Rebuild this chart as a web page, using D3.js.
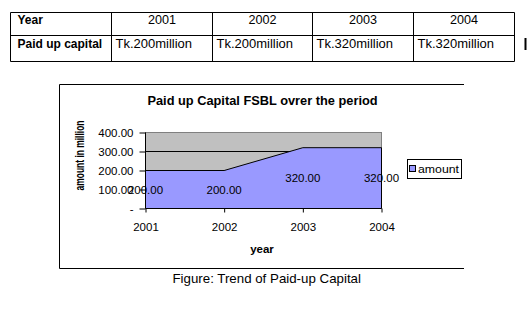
<!DOCTYPE html>
<html><head><meta charset="utf-8">
<script src="https://cdn.jsdelivr.net/npm/d3@7"></script>
<style>
html,body{margin:0;padding:0;background:#fff;}
svg{display:block;font-family:"Liberation Sans",Arial,sans-serif;}
</style></head>
<body>
<svg id="c" width="531" height="329"></svg>
<script>
// Data
const years = ["2001", "2002", "2003", "2004"];
const amounts = [200, 200, 320, 320];
const tableRowLabels = ["Year", "Paid up capital"];
const tableCapital = ["Tk.200million", "Tk.200million", "Tk.320million", "Tk.320million"];
const yTicks = [0, 100, 200, 300, 400];
const chartTitle = "Paid up Capital FSBL ovrer the period";
const yTitle = "amount in million";
const xTitle = "year";
const seriesName = "amount";
const caption = "Figure: Trend of Paid-up Capital";

const svg = d3.select("#c");
const FF = "Liberation Sans, Arial, sans-serif";

// ---- Table ----
const colEdges = [10.5, 111.5, 212.5, 312.5, 413.5, 514.5];
const rowEdges = [12.5, 35.5, 61.5];
const tbl = svg.append("g");
colEdges.forEach(x => tbl.append("line").attr("x1", x).attr("x2", x).attr("y1", rowEdges[0]).attr("y2", rowEdges[2]).attr("stroke", "#000"));
rowEdges.forEach(y => tbl.append("line").attr("x1", colEdges[0]).attr("x2", colEdges[5]).attr("y1", y).attr("y2", y).attr("stroke", "#000"));
tbl.append("text").attr("x", 17.5).attr("y", 24).attr("font-size", 12).attr("font-weight", "bold").text(tableRowLabels[0]);
tbl.append("text").attr("x", 17.5).attr("y", 47.5).attr("font-size", 12).attr("font-weight", "bold").text(tableRowLabels[1]);
years.forEach((y, i) => {
  tbl.append("text").attr("x", (colEdges[i + 1] + colEdges[i + 2]) / 2).attr("y", 24)
    .attr("text-anchor", "middle").attr("font-size", 12.6).text(y);
  tbl.append("text").attr("x", colEdges[i + 1] + 4).attr("y", 47.5)
    .attr("font-size", 13).text(tableCapital[i]);
});
// text cursor mark
tbl.append("rect").attr("x", 524.5).attr("y", 38).attr("width", 2).attr("height", 12).attr("fill", "#000");

// ---- Chart frame ----
svg.append("path").attr("d", "M464,84.5 H59.5 V268.5 H464").attr("fill", "none").attr("stroke", "#000").attr("stroke-width", 1);

// ---- Plot ----
const x = d3.scalePoint().domain(years).range([145.5, 381.5]);
const y = d3.scaleLinear().domain([0, 400]).range([208.5, 132.5]);

const plot = svg.append("g");
plot.append("rect").attr("x", x.range()[0]).attr("y", y(400)).attr("width", x.range()[1] - x.range()[0]).attr("height", y(0) - y(400))
  .attr("fill", "#C0C0C0").attr("stroke", "#808080");
// gridlines
plot.selectAll(".grid").data(yTicks.filter(d => d > 0 && d < 400)).join("line")
  .attr("x1", x.range()[0]).attr("x2", x.range()[1]).attr("y1", d => y(d)).attr("y2", d => y(d)).attr("stroke", "#000");

const data = years.map((yr, i) => ({ yr, v: amounts[i] }));
const area = d3.area().x(d => x(d.yr)).y0(y(0)).y1(d => y(d.v));
plot.append("path").datum(data).attr("d", area).attr("fill", "#9999FF");
const line = d3.line().x(d => x(d.yr)).y(d => y(d.v));
plot.append("path").datum(data).attr("d", line).attr("fill", "none").attr("stroke", "#000");
plot.append("line").attr("x1", x("2004")).attr("x2", x("2004")).attr("y1", y(amounts[3])).attr("y2", y(0)).attr("stroke", "#000");

// axes
const yAxis = d3.axisLeft(y).tickValues(yTicks).tickSize(6).tickPadding(6)
  .tickFormat(d => d === 0 ? "-" : d3.format(".2f")(d));
const gy = svg.append("g").attr("transform", `translate(${x.range()[0]},0)`).call(yAxis);
gy.select(".domain").remove();
gy.append("line").attr("x1", 0).attr("x2", 0).attr("y1", y(400)).attr("y2", y(0)).attr("stroke", "#000");
gy.selectAll("text").attr("font-size", 11.5).attr("font-family", FF).attr("fill", "#000").attr("dy", "0.35em");
gy.selectAll("line").attr("stroke", "#000");

const xAxis = d3.axisBottom(x).tickSize(4).tickPadding(10.5);
const gx = svg.append("g").attr("transform", `translate(0,${y(0)})`).call(xAxis);
gx.select(".domain").attr("d", `M${x.range()[0]},0H${x.range()[1]}`).attr("stroke", "#000");
gx.selectAll("text").attr("font-size", 11.5).attr("font-family", FF).attr("fill", "#000");
gx.selectAll("line").attr("stroke", "#000");

// data labels (centered at half value)
svg.append("g").selectAll("text").data(data).join("text")
  .attr("x", d => x(d.yr)).attr("y", d => y(d.v / 2)).attr("dy", "0.35em")
  .attr("text-anchor", "middle").attr("font-size", 11.5).text(d => d3.format(".2f")(d.v));

// titles
svg.append("text").attr("x", 262.5).attr("y", 105).attr("text-anchor", "middle")
  .attr("font-size", 12.8).attr("font-weight", "bold").text(chartTitle);
svg.append("text").attr("transform", "translate(84,155.5) rotate(-90)").attr("text-anchor", "middle")
  .attr("font-size", 12).attr("font-weight", "bold")
  .attr("textLength", 70).attr("lengthAdjust", "spacingAndGlyphs").text(yTitle);
svg.append("text").attr("x", 262).attr("y", 253).attr("text-anchor", "middle")
  .attr("font-size", 11.5).attr("font-weight", "bold").text(xTitle);

// legend
const lg = svg.append("g");
lg.append("rect").attr("x", 407.5).attr("y", 159.5).attr("width", 54).attr("height", 19).attr("fill", "#fff").attr("stroke", "#000");
lg.append("rect").attr("x", 409.5).attr("y", 165.5).attr("width", 6).attr("height", 6).attr("fill", "#9999FF").attr("stroke", "#000");
lg.append("text").attr("x", 418).attr("y", 173).attr("font-size", 11.8)
  .attr("textLength", 41).attr("lengthAdjust", "spacingAndGlyphs").text(seriesName);

// caption
svg.append("text").attr("x", 266.7).attr("y", 283).attr("text-anchor", "middle").attr("font-size", 13.3).text(caption);
</script>
</body></html>
